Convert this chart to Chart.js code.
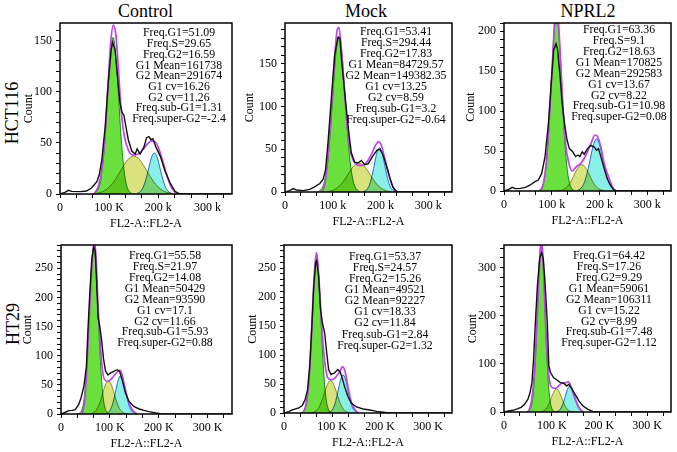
<!DOCTYPE html>
<html><head><meta charset="utf-8">
<script src="https://cdn.jsdelivr.net/npm/chart.js@4.4.1/dist/chart.umd.min.js"></script>
<style>
html,body{margin:0;padding:0;background:#fff;width:677px;height:452px;overflow:hidden;position:relative;font-family:"Liberation Serif","Times New Roman",serif;color:#000}
canvas{position:absolute}
.col{position:absolute;top:2px;font-size:18px;line-height:18px;white-space:nowrap;transform:translateX(-50%)}
.row{position:absolute;font-size:18px;line-height:18px;white-space:nowrap;transform:translate(-50%,-50%) rotate(-90deg)}
</style></head><body>
<div class="col" style="left:145.5px">Control</div>
<div class="col" style="left:366px">Mock</div>
<div class="col" style="left:588px">NPRL2</div>
<div class="row" style="left:12px;top:112.5px">HCT116</div>
<div class="row" style="left:12.5px;top:324px">HT29</div>
<script>
// ---------- data (x in thousands of FL2-A units, y = count) ----------
const xTickLabelsP1 = ['0','100 K','200 k','300 k'];
const xTickLabelsP2 = ['0','100 k','200 k','300 k'];
const xTickLabelsP3 = ['0','100 k','200 k','300 k'];
const xTickLabelsHT = ['0','100 K','200 K','300 K'];
const xTickValues = [0,100,200,300];

// HCT116 Control
const hctCtrlRaw = [[0,0],[10,1.6],[17,3.6],[24,2.6],[41,2.3],[54,2.9],[64,5.8],[75,12],[80,19],[85,33],[92,66],[98,108],[104,140],[107,148],[112,141],[117,115],[122,89],[126,80],[130,77],[134,66],[139,53],[146,42],[153,39],[157,44],[163,39],[171,46],[176,55],[181,56],[185,53],[189,54],[195,46],[204,37],[214,22],[224,11],[234,2.6],[244,0],[350,0]];
const hctCtrlFit = [[69,0],[78,7.5],[85,24],[92,59],[98,108],[103,147],[108.5,165],[114,154],[119,121],[124,85],[130,59],[139,43],[149,38],[159,39],[170,44],[180,50],[190,52],[197,49],[204,40],[214,24],[224,9],[234,1.6],[241,0]];
const hctCtrlG1 = [[68,0],[73,1.5],[78,5],[83,14],[88,34],[93,65],[98,105],[103,139],[108,153],[113,139],[118,105],[123,65],[128,34],[133,14],[138,5],[143,1.5],[148,0]];
const hctCtrlS = [[70,0.5],[80,1.3],[90,3.1],[100,6.7],[110,12.4],[120,20],[130,28],[140,34.6],[150,37],[160,34.6],[170,28],[180,20],[190,12.4],[200,6.7],[210,3.1],[220,1.3],[230,0.5]];
const hctCtrlG2 = [[157,0.6],[162,1.8],[167,4.6],[172,10],[177,18.3],[182,28.3],[187,36.7],[192,40],[197,36.7],[202,28.3],[207,18.3],[212,10],[217,4.6],[222,1.8],[227,0.6]];
const hctCtrlStats = ['Freq.G1=51.09','Freq.S=29.65','Freq.G2=16.59','G1 Mean=161738','G2 Mean=291674','G1 cv=16.26','G2 cv=11.26','Freq.sub-G1=1.31','Freq.super-G2=-2.4'];

// HCT116 Mock
const hctMockRaw = [[0,0],[10,1.6],[17,4],[24,2.4],[38,1.6],[52,3],[62,6],[73,10],[80,15],[85,26],[90,57],[97,109],[104,160],[111,181],[115,180],[119,152],[125,117],[130,90],[134,68],[139,46],[146,35],[153,34],[160,37],[167,32],[174,33],[184,42],[193,49],[199,50],[205,44],[212,32],[219,18],[226,6],[233,1],[238,0],[350,0]];
const hctMockFit = [[76,0],[83,8],[90,42],[97,97],[104,156],[109,189],[113,193],[118,168],[124,124],[129,85],[135,54],[142,38],[151,32],[160,31],[170,34],[181,44],[189,54],[196,59],[201,56],[208,42],[215,26],[222,12],[229,3],[235,0]];
const hctMockG1 = [[68,0],[73,1.6],[78,4.9],[83,12.8],[88,28.7],[93,56],[98,94],[103,136],[108,170],[113,183],[118,170],[123,136],[128,94],[133,56],[138,28.7],[143,12.8],[148,4.9],[153,1.6],[158,0]];
const hctMockS = [[85,0.3],[95,1.1],[105,3.2],[115,7.5],[125,14.5],[135,23.3],[145,31],[155,34],[165,31],[175,23.3],[185,14.5],[195,7.5],[205,3.2],[215,1.1],[225,0.3]];
const hctMockG2 = [[163,0.3],[168,1.3],[173,3.9],[178,9.9],[183,20.5],[188,34.4],[193,46.9],[198,52],[203,46.9],[208,34.4],[213,20.5],[218,9.9],[223,3.9],[228,1.3],[233,0.3]];
const hctMockStats = ['Freq.G1=53.41','Freq.S=294.44','Freq.G2=17.83','G1 Mean=84729.57','G2 Mean=149382.35','G1 cv=13.25','G2 cv=8.59','Freq.sub-G1=3.2','Freq.super-G2=-0.64'];

// HCT116 NPRL2
const hctNprlRaw = [[0,0],[10,2],[17,4.6],[24,3],[34,3.3],[45,4.6],[55,7.5],[65,11.6],[72,13.7],[79,22],[86,43],[93,84],[100,143],[104,176],[109,184],[112,178],[117,147],[122,109],[127,84],[132,64],[137,53],[144,49],[150,43],[155,45],[159,43],[164,49],[168,46],[175,53],[182,57],[189,55],[194,51],[198,53],[203,43],[210,28],[216,16],[223,7.5],[230,1.2],[237,0],[350,0]];
const hctNprlFit = [[76,0],[82,7.5],[89,39],[96,101],[102,166],[106,212],[110,228],[114,212],[118,170],[124,101],[129,59],[136,34.5],[143,25],[151,30],[161,34.5],[172,45],[182,59],[191,70],[196,68],[203,55],[210,34.5],[219,18],[227,5.4],[234,0]];
const hctNprlG1 = [[70,0],[75,1.4],[80,5.3],[85,16.6],[90,42],[95,87],[100,146],[105,198],[110,220],[115,198],[120,146],[125,87],[130,42],[135,16.6],[140,5.3],[145,1.4],[150,0]];
const hctNprlS = [[113,0],[118,0.6],[123,1.5],[128,3],[133,5.7],[138,9.7],[143,15.1],[148,21.3],[153,27.2],[158,31.4],[163,33],[168,31.4],[173,27.2],[178,21.3],[183,15.1],[188,9.7],[193,5.7],[198,3],[203,1.5],[208,0.6],[213,0]];
const hctNprlG2 = [[154,0.8],[159,2.3],[164,5.5],[169,11.7],[174,21.7],[179,35],[184,49.4],[189,60.7],[194,65],[199,60.7],[204,49.4],[209,35],[214,21.7],[219,11.7],[224,5.5],[229,2.3],[234,0.8]];
const hctNprlStats = ['Freq.G1=63.36','Freq.S=9.1','Freq.G2=18.63','G1 Mean=170825','G2 Mean=292583','G1 cv=13.67','G2 cv=8.22','Freq.sub-G1=10.98','Freq.super-G2=0.08'];

// HT29 Control
const htCtrlRaw = [[0,0],[9,3],[16,5.7],[23,6.3],[29,7.5],[36,16],[41,27.5],[47,48],[52,82],[55.5,151],[59,208],[63,266],[67,287],[70,280],[73,225],[76,165],[79,152],[83,128],[87,95],[91,74],[96,67],[101,70],[108,73],[115,76],[120,73],[126,56],[132,36],[139,22],[149,13],[160,8.6],[170,6.3],[180,4],[194,1.7],[204,0.6],[218,0],[350,0]];
const htCtrlFit = [[43,0],[48,19],[52,65],[57,151],[62,237],[66,283],[68.5,295],[72,265],[75,202],[79.5,134],[84,82],[89,59],[96,56],[105,62],[115,72],[120.5,75],[125,68],[130,48],[136,27.5],[142,13],[149,4],[156,0]];
const htCtrlG1 = [[32,0],[37,1.1],[42,6],[47,24],[52,72],[57,155],[62,247],[67,288],[72,247],[77,155],[82,72],[87,24],[92,6],[97,1.1],[102,0]];
const htCtrlS = [[57,0.2],[62,0.8],[67,2.5],[72,6.5],[77,14.2],[82,26.1],[87,40.3],[92,52.3],[97,57],[102,52.3],[107,40.3],[112,26.1],[117,14.2],[122,6.5],[127,2.5],[132,0.8],[137,0.2]];
const htCtrlG2 = [[92,0.7],[97,2.9],[102,8.9],[107,21.4],[112,40],[117,58.2],[122,66],[127,58.2],[132,40],[137,21.4],[142,8.9],[147,2.9],[152,0.7]];
const htCtrlStats = ['Freq.G1=55.58','Freq.S=21.97','Freq.G2=14.08','G1 Mean=50429','G2 Mean=93590','G1 cv=17.1','G2 cv=11.66','Freq.sub-G1=5.93','Freq.super-G2=0.88'];

// HT29 Mock
const htMockRaw = [[0,0],[10,2.3],[17,5.2],[24,7],[31,8.7],[38,12.7],[44,23],[49,40],[53.5,81],[58,150],[62,220],[66,260],[68,263],[72,237],[76,179],[80,156],[84.5,139],[89,104],[93,75],[98,66.5],[105,69],[112,75],[117,70.5],[121,61],[126,46],[133,29],[140,17],[151,10.4],[165,7],[179,5.2],[193,2.9],[207,1.2],[218,0],[350,0]];
const htMockFit = [[39,0],[45,11.6],[51,46],[56,110],[60.5,197],[65,260],[67.6,277],[70,263],[75,202],[80,133],[86,81],[91,61],[98,57],[107,61],[115.5,70.5],[122.5,80],[128,69],[133,46],[138,26],[144,11.6],[151,2.3],[156,0]];
const htMockG1 = [[33,0],[38,1],[43,5.6],[48,22.7],[53,67],[58,144],[63,230],[68,268],[73,230],[78,144],[83,67],[88,22.7],[93,5.6],[98,1],[103,0]];
const htMockS = [[57,0.5],[62,1.5],[67,3.9],[72,8.8],[77,17.2],[82,28.8],[87,41.7],[92,52],[97,56],[102,52],[107,41.7],[112,28.8],[117,17.2],[122,8.8],[127,3.9],[132,1.5],[137,0.5]];
const htMockG2 = [[93,0.7],[98,2.9],[103,8.9],[108,21.4],[113,40],[118,58.2],[123,66],[128,58.2],[133,40],[138,21.4],[143,8.9],[148,2.9],[153,0.7]];
const htMockStats = ['Freq.G1=53.37','Freq.S=24.57','Freq.G2=15.26','G1 Mean=49521','G2 Mean=92227','G1 cv=18.33','G2 cv=11.84','Freq.sub-G1=2.84','Freq.super-G2=1.32'];

// HT29 NPRL2
const htNprlRaw = [[0,0],[9,2],[19,3.5],[29,7],[36,9.7],[43,16],[50,26],[54.5,40],[58.6,61],[62,110],[65.4,179],[70,262],[75,321],[79,331],[82.5,317],[86,269],[90.7,186],[94,96],[97.5,82],[104,71],[111,66.5],[118,61],[125,60],[131.6,54],[136,57.5],[142,48.5],[148.6,37],[157,23],[165.6,12.5],[176,5.5],[186,1.4],[193,0],[350,0]];
const htNprlFit = [[50,0],[54.5,9],[60,40],[65.4,109],[70,206],[75,318],[78.5,360],[82.5,303],[87,186],[92,96],[96,61],[101,50.6],[108,49],[114.5,54],[121,60],[129.5,61],[135,62.4],[140,54],[147,33],[154,16],[161,4],[166,0]];
const htNprlG1 = [[46,0],[50,0.8],[54,3.9],[58,15.4],[62,47.6],[66,114],[70,213],[74,311],[78,352],[82,311],[86,213],[90,114],[94,47.6],[98,15.4],[102,3.9],[106,0.8],[110,0]];
const htNprlS = [[75,0.3],[80,1.2],[85,3.6],[90,9.2],[95,19],[100,31.8],[105,43.3],[110,48],[115,43.3],[120,31.8],[125,19],[130,9.2],[135,3.6],[140,1.2],[145,0.3]];
const htNprlG2 = [[108,0.4],[113,1.7],[118,5.9],[123,15.5],[128,31],[133,47],[138,54],[143,47],[148,31],[153,15.5],[158,5.9],[163,1.7],[168,0.4]];
const htNprlStats = ['Freq.G1=64.42','Freq.S=17.26','Freq.G2=9.29','G1 Mean=59061','G2 Mean=106311','G1 cv=15.22','G2 cv=8.99','Freq.sub-G1=7.48','Freq.super-G2=1.12'];

// ---------- layout (page pixels) ----------
const panels = [
  {raw:hctCtrlRaw, fit:hctCtrlFit, g1:hctCtrlG1, s:hctCtrlS, g2:hctCtrlG2, stats:hctCtrlStats, xLabels:xTickLabelsP1,
   plot:{l:60,t:23,r:232,b:194}, yw:38, ymax:167, ystep:10, ylab:50, text:{x:179,y:33.3,dy:10.7}},
  {raw:hctMockRaw, fit:hctMockFit, g1:hctMockG1, s:hctMockS, g2:hctMockG2, stats:hctMockStats, xLabels:xTickLabelsP2,
   plot:{l:285,t:23,r:452,b:192}, yw:42, ymax:198, ystep:10, ylab:50, text:{x:396,y:32.3,dy:11}},
  {raw:hctNprlRaw, fit:hctNprlFit, g1:hctNprlG1, s:hctNprlS, g2:hctNprlG2, stats:hctNprlStats, xLabels:xTickLabelsP3,
   plot:{l:504,t:23,r:671,b:191}, yw:40, ymax:210, ystep:10, ylab:50, text:{x:619,y:30,dy:10.9}},
  {raw:htCtrlRaw, fit:htCtrlFit, g1:htCtrlG1, s:htCtrlS, g2:htCtrlG2, stats:htCtrlStats, xLabels:xTickLabelsHT,
   plot:{l:61,t:245,r:232,b:414}, yw:40, ymax:290, ystep:10, ylab:50, text:{x:165,y:256,dy:10.9}},
  {raw:htMockRaw, fit:htMockFit, g1:htMockG1, s:htMockS, g2:htMockG2, stats:htMockStats, xLabels:xTickLabelsHT,
   plot:{l:284,t:245,r:452,b:413}, yw:38, ymax:290, ystep:10, ylab:50, text:{x:385,y:256.7,dy:11.1}},
  {raw:htNprlRaw, fit:htNprlFit, g1:htNprlG1, s:htNprlS, g2:htNprlG2, stats:htNprlStats, xLabels:xTickLabelsHT,
   plot:{l:504,t:245,r:671,b:412}, yw:38, ymax:347, ystep:20, ylab:100, text:{x:609,y:256,dy:10.9}}
];

const SERIF = "'Liberation Serif','Times New Roman',serif";
Chart.defaults.font.family = SERIF;
Chart.defaults.color = '#000';
const PAD_T = 10, PAD_R = 10, XH = 37;

const decor = {
  id: 'decor',
  beforeDatasetsDraw(chart){ chart.ctx.globalCompositeOperation = 'multiply'; },
  afterDatasetDraw(chart, args){ if (args.index === 2) chart.ctx.globalCompositeOperation = 'source-over'; },
  afterDatasetsDraw(chart){ chart.ctx.globalCompositeOperation = 'source-over'; },
  afterDraw(chart, args, o){
    const {ctx, chartArea:a} = chart;
    ctx.save();
    ctx.strokeStyle = '#000'; ctx.lineWidth = 1.5;
    ctx.strokeRect(a.left, a.top, a.right - a.left, a.bottom - a.top);
    ctx.fillStyle = '#000';
    ctx.font = '11.8px ' + SERIF;
    ctx.textAlign = 'center'; ctx.textBaseline = 'middle';
    o.lines.forEach((t, i) => ctx.fillText(t, o.x, o.y + i * o.dy));
    ctx.restore();
  }
};

const pts = arr => arr.map(p => ({x:p[0], y:p[1]}));

panels.forEach(p => {
  const cv = document.createElement('canvas');
  const left = p.plot.l - p.yw, top = p.plot.t - PAD_T;
  const w = p.yw + (p.plot.r - p.plot.l) + PAD_R;
  const h = PAD_T + (p.plot.b - p.plot.t) + XH;
  cv.width = w; cv.height = h;
  cv.style.left = left + 'px'; cv.style.top = top + 'px';
  cv.style.width = w + 'px'; cv.style.height = h + 'px';
  document.body.appendChild(cv);
  const line = {pointRadius:0, cubicInterpolationMode:'monotone', fill:false};
  new Chart(cv, {
    type:'line',
    data:{datasets:[
      {...line, data:pts(p.raw), borderColor:'#111', borderWidth:1.4, cubicInterpolationMode:'default', tension:0},
      {...line, data:pts(p.fit), borderColor:'#bf45e6', borderWidth:1.7},
      {...line, data:pts(p.g2), borderColor:'#2f74c8', borderWidth:1, backgroundColor:'#8aeee9', fill:'origin'},
      {...line, data:pts(p.s), borderColor:'#9a9a30', borderWidth:1, backgroundColor:'#d9e27c', fill:'origin'},
      {...line, data:pts(p.g1), borderColor:'#2f8f2f', borderWidth:1, backgroundColor:'#6ae03c', fill:'origin'}
    ]},
    options:{
      responsive:false, animation:false, events:[],
      layout:{padding:{top:PAD_T, right:PAD_R, left:0, bottom:0}},
      plugins:{legend:{display:false}, tooltip:{enabled:false},
        decor:{lines:p.stats, x:p.text.x - left, y:p.text.y - top, dy:p.text.dy}},
      scales:{
        x:{type:'linear', min:0, max:350,
          ticks:{stepSize:100/3, includeBounds:false, autoSkip:false, maxRotation:0, padding:3, color:'#000',
            font:{size:12},
            callback:v => { const r = Math.round(v); const i = xTickValues.indexOf(r); return (Math.abs(v - r) < 0.01 && i >= 0) ? p.xLabels[i] : ''; }},
          grid:{drawOnChartArea:false, drawTicks:true, tickLength:4, tickColor:'#000', tickWidth:1},
          border:{display:false},
          title:{display:true, text:'FL2-A::FL2-A', color:'#000', font:{size:12}, padding:{top:0,bottom:0}},
          afterFit:s => { s.height = XH; s.paddingLeft = 0; s.paddingRight = 0; }
        },
        y:{type:'linear', min:0, max:p.ymax,
          ticks:{stepSize:p.ystep, includeBounds:false, autoSkip:false, padding:4, color:'#000', font:{size:12},
            callback:v => (v % p.ylab === 0) ? String(v) : ''},
          grid:{drawOnChartArea:false, drawTicks:true, tickLength:4, tickColor:'#000', tickWidth:1},
          border:{display:false},
          title:{display:true, text:'Count', color:'#000', font:{size:12}, padding:{top:0,bottom:0}},
          afterFit:s => { s.width = p.yw; s.paddingTop = 0; s.paddingBottom = 0; }
        }
      }
    },
    plugins:[decor]
  });
});
</script>
</body></html>
